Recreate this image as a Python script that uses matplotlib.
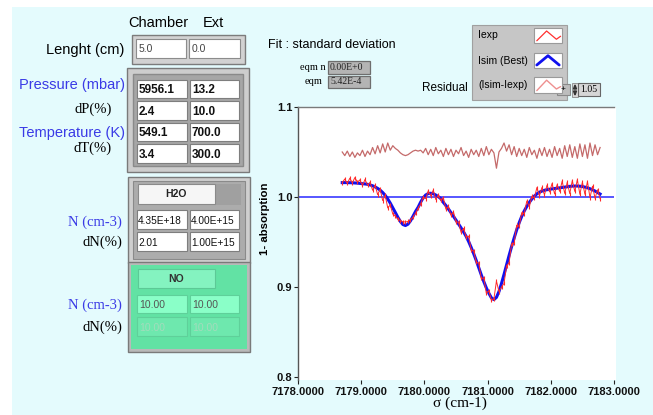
import numpy as np
import matplotlib
matplotlib.use("Agg")
import matplotlib.pyplot as plt
from matplotlib.patches import Rectangle

# ---------------- data ----------------
sigma_start = 7178.70          # cm-1, first sample
sigma_step = 0.04              # cm-1, sample spacing
residual_offset = 1.05         # offset applied to (Isim - Iexp)

isim = [
    1.0160, 1.0160, 1.0160, 1.0159, 1.0158, 1.0156, 1.0154, 1.0151, 1.0148, 1.0145,
    1.0141, 1.0134, 1.0125, 1.0112, 1.0096, 1.0076, 1.0050, 1.0018, 0.9978, 0.9932,
    0.9880, 0.9828, 0.9775, 0.9728, 0.9694, 0.9683, 0.9698, 0.9735, 0.9786, 0.9840,
    0.9885, 0.9942, 0.9990, 1.0022, 1.0038, 1.0042, 1.0036, 1.0022, 1.0004, 0.9982,
    0.9940, 0.9905, 0.9867, 0.9827, 0.9785, 0.9743, 0.9700, 0.9657, 0.9612, 0.9563,
    0.9505, 0.9440, 0.9370, 0.9295, 0.9215, 0.9135, 0.9060, 0.8990, 0.8930, 0.8880,
    0.8860, 0.8885, 0.8950, 0.9040, 0.9140, 0.9245, 0.9350, 0.9450, 0.9545, 0.9635,
    0.9715, 0.9785, 0.9845, 0.9895, 0.9940, 0.9978, 1.0010, 1.0035, 1.0053, 1.0066,
    1.0075, 1.0081, 1.0086, 1.0090, 1.0094, 1.0098, 1.0102, 1.0106, 1.0110, 1.0114,
    1.0118, 1.0121, 1.0122, 1.0122, 1.0120, 1.0116, 1.0110, 1.0102, 1.0092, 1.0080,
    1.0066, 1.0050, 1.0033,
]

residual = [
    1.050, 1.046, 1.051, 1.045, 1.050, 1.044, 1.049, 1.046, 1.052, 1.045,
    1.051, 1.047, 1.055, 1.048, 1.057, 1.049, 1.059, 1.050, 1.060, 1.052,
    1.057, 1.054, 1.052, 1.049, 1.047, 1.046, 1.047, 1.049, 1.051, 1.052,
    1.051, 1.052, 1.049, 1.054, 1.047, 1.053, 1.046, 1.055, 1.048, 1.052,
    1.045, 1.054, 1.047, 1.053, 1.045, 1.052, 1.048, 1.055, 1.046, 1.051,
    1.044, 1.053, 1.047, 1.052, 1.045, 1.054, 1.046, 1.056, 1.047, 1.053,
    1.049, 1.032, 1.050, 1.054, 1.060, 1.051, 1.058, 1.047, 1.056, 1.045,
    1.054, 1.046, 1.053, 1.044, 1.055, 1.047, 1.052, 1.043, 1.054, 1.046,
    1.055, 1.045, 1.053, 1.044, 1.056, 1.046, 1.054, 1.043, 1.057, 1.045,
    1.058, 1.044, 1.056, 1.043, 1.059, 1.045, 1.058, 1.043, 1.060, 1.046,
    1.058, 1.047, 1.055,
]

x_ticks = [7178, 7179, 7180, 7181, 7182, 7183]
y_ticks = [0.8, 0.9, 1.0, 1.1]
reference_level = 1.0

length_vals = ["5.0", "0.0"]
pt_vals = [["5956.1", "13.2"], ["2.4", "10.0"], ["549.1", "700.0"], ["3.4", "300.0"]]
h2o_vals = [["4.35E+18", "4.00E+15"], ["2.01", "1.00E+15"]]
no_vals = [["10.00", "10.00"], ["10.00", "10.00"]]
eqm_vals = ["0.00E+0", "5.42E-4"]
legend_labels = ["Iexp", "Isim (Best)", "(Isim-Iexp)"]

sigma = sigma_start + sigma_step * np.arange(len(isim))
isim_a = np.array(isim)
res_a = np.array(residual)
iexp = isim_a - (res_a - residual_offset)

# ---------------- styling ----------------
SANS = "Liberation Sans"
SERIF = "Liberation Serif"
CYAN = "#e4fbfd"
BLUE_TXT = "#3a3ae6"

W, H = 653, 415
fig = plt.figure(figsize=(W / 100, H / 100), dpi=100)
bg = fig.add_axes([0, 0, 1, 1])
bg.set_xlim(0, W)
bg.set_ylim(H, 0)
bg.axis("off")


def rect(x0, y0, x1, y1, fc, ec="none", lw=0.8, z=1):
    bg.add_patch(Rectangle((x0, y0), x1 - x0, y1 - y0, facecolor=fc,
                           edgecolor=ec, linewidth=lw, zorder=z))


def txt(x, y, s, size=8, ha="left", color="black", family=SANS, weight="normal", z=5):
    bg.text(x, y, s, fontsize=size, ha=ha, va="center", color=color,
            family=family, fontweight=weight, zorder=z)


rect(0, 0, W, H, "white", z=0)
rect(12, 7, W, H, CYAN, z=0)

# ---------- left panel ----------
txt(158, 23, "Chamber", 10.5, "center")
txt(213, 23, "Ext", 10.5, "center")

# Length
txt(124, 50, "Lenght (cm)", 10.5, "right")
rect(132, 35, 245, 64, "#d2d2d2", "#7c7c7c", 1.0)
cols = [(136, 186), (189, 240)]
for (a, b), v in zip(cols, length_vals):
    rect(a, 39, b, 58, "white", "#8c8c8c", 0.8, 2)
    txt(a + 3, 49, v, 7.5, color="#444444")

# Pressure / temperature cluster
rect(127, 68, 249, 172, "#cdcdcd", "#7a7a7a", 1.0)
rect(133, 74, 243, 166, "#a6a6a6", "#8a8a8a", 1.0)
pt_rows = [(80, 98), (101, 120), (123, 141), (144, 163)]
pt_cols = [(137, 187), (190, 239)]
for (r0, r1), row in zip(pt_rows, pt_vals):
    for (c0, c1), v in zip(pt_cols, row):
        rect(c0, r0, c1, r1, "white", "#7e7e7e", 0.8, 2)
        txt(c0 + 2, (r0 + r1) / 2 + 1, v, 8.5, weight="bold", color="#111111")
txt(125, 85, "Pressure (mbar)", 10.5, "right", BLUE_TXT)
txt(93, 109, "dP(%)", 10.5, "center", family=SERIF)
txt(125, 133, "Temperature (K)", 10.5, "right", BLUE_TXT)
txt(93, 148, "dT(%)", 10.5, "center", family=SERIF)

# H2O cluster
rect(128, 177, 250, 263, "#cfcfcf", "#7a7a7a", 1.0)
rect(133, 181, 245, 259, "#acacac", "#8a8a8a", 0.8)
rect(215, 184, 241, 205, "#a0a0a0", "none")
rect(138, 184, 215, 204, "#f6f6f6", "#8a8a8a", 0.8, 2)
txt(176, 194, "H2O", 7.5, "center", weight="bold", color="#222222")
h_rows = [(210, 229), (232, 251)]
for (r0, r1), row in zip(h_rows, h2o_vals):
    for (c0, c1), v in zip(pt_cols, row):
        rect(c0, r0, c1, r1, "white", "#7e7e7e", 0.8, 2)
        txt(c0 + 1, (r0 + r1) / 2 + 1, v, 7.3, color="#111111")
txt(122, 222, "N (cm-3)", 10.5, "right", BLUE_TXT, SERIF)
txt(122, 242, "dN(%)", 10.5, "right", family=SERIF)

# NO cluster
rect(128, 262, 250, 352, "#b9b9b9", "#7a7a7a", 1.0)
rect(131, 265, 247, 349, "#62e2a4", "none")
rect(138, 269, 215, 288, "#84f3c0", "#5cc996", 0.8, 2)
txt(176, 279, "NO", 7.5, "center", weight="bold", color="#333333")
n_rows = [(295, 313), (317, 336)]
n_fc = ["#8affc8", "#6ee8ae"]
n_tc = ["#555555", "#a2dcbc"]
for (r0, r1), row, fc, tc in zip(n_rows, no_vals, n_fc, n_tc):
    for (c0, c1), v in zip(pt_cols, row):
        rect(c0, r0, c1, r1, fc, "#5fd09a", 0.8, 2)
        txt(c0 + 2, (r0 + r1) / 2 + 1, v, 7.5, color=tc)
txt(122, 305, "N (cm-3)", 10.5, "right", BLUE_TXT, SERIF)
txt(122, 327, "dN(%)", 10.5, "right", family=SERIF)

# ---------- right top ----------
txt(268, 45, "Fit : standard deviation", 9)
txt(300, 67, "eqm n", 7.5, family=SERIF)
txt(305, 82, "eqm", 7.5, family=SERIF)
for (y0, y1), v in zip([(61, 74), (76, 88)], eqm_vals):
    rect(328, y0, 370, y1, "#b4b4b4", "#6e6e6e", 0.9, 3)
    txt(330, (y0 + y1) / 2, v, 7, family=SERIF, color="#222222", z=6)
txt(468, 88, "Residual", 8.5, "right")

# legend box
rect(472, 25, 567, 100, "#c6c6c6", "#a0a0a0", 0.8, 3)
leg_y = [(28, 43), (53, 68), (77, 93)]
for (y0, y1), lab in zip(leg_y, legend_labels):
    txt(478, (y0 + y1) / 2, lab, 7.5, z=6)
    rect(534, y0, 562, y1, "white", "#9a9a9a", 0.8, 4)
shapes = [[(0.1, 0.85), (0.45, 0.2), (0.8, 0.75), (0.95, 0.55)],
          [(0.1, 0.8), (0.5, 0.18), (0.9, 0.8)],
          [(0.1, 0.85), (0.45, 0.2), (0.8, 0.75), (0.95, 0.6)]]
styles = [dict(color="#ff3030", lw=0.9), dict(color="#1010ee", lw=2.0),
          dict(color="#ee9090", lw=1.0)]
for (y0, y1), shp, st in zip(leg_y, shapes, styles):
    xs = [534 + f * 28 for f, _ in shp]
    ys = [y0 + g * (y1 - y0) for _, g in shp]
    bg.plot(xs, ys, zorder=5, solid_capstyle="round", **st)

# +/spinner/value box
rect(557, 84, 570, 95, "#bdbdbd", "#8a8a8a", 0.8, 3)
txt(563.5, 89.5, "+", 6, "center", z=6)
rect(572, 83, 578, 97, "#d8d8d8", "#8a8a8a", 0.6, 3)
bg.fill([573.5, 575, 576.5], [89, 85, 89], color="#333333", zorder=5)
bg.fill([573.5, 575, 576.5], [91, 95, 91], color="#333333", zorder=5)
rect(578, 83, 600, 96, "#d6d6d6", "#666666", 0.8, 3)
txt(580, 89.5, "1.05", 7, family=SERIF, z=6)

# ---------- plot ----------
rect(298, 107, 616, 380, "white", z=0.5)
ax = fig.add_axes([298 / W, 1 - 380 / H, (614 - 298) / W, (380 - 107) / H])
ax.set_facecolor("white")
ax.set_xlim(x_ticks[0], x_ticks[-1])
ax.set_ylim(y_ticks[0] - 3 / 900, y_ticks[-1])

ax.axhline(reference_level, color="#3a3aff", lw=1.2, zorder=1)
ax.plot(sigma, res_a, color="#c46a6a", lw=0.9, zorder=2)
ax.plot(sigma, isim_a, color="#1010f0", lw=2.2, zorder=3)
ax.plot(sigma, iexp, color="#ff2a2a", lw=0.7, marker="|", ms=2.6, mew=0.8, zorder=4)

for s in ["right", "bottom"]:
    ax.spines[s].set_visible(False)
ax.spines["left"].set_color("#555555")
ax.spines["top"].set_color("#7a7a7a")
ax.spines["left"].set_linewidth(1.0)
ax.spines["top"].set_linewidth(1.0)

ax.set_xticks(x_ticks)
ax.set_xticklabels([f"{v:.4f}" for v in x_ticks])
ax.set_yticks(y_ticks)
ax.set_yticklabels([f"{v:.1f}" for v in y_ticks])
ax.tick_params(axis="x", direction="out", length=3, pad=2, colors="#222222")
ax.tick_params(axis="y", direction="out", length=3, pad=1, colors="#222222")
for lab in ax.get_xticklabels() + ax.get_yticklabels():
    lab.set_fontfamily(SANS)
    lab.set_fontweight("bold")
    lab.set_fontsize(8)
    lab.set_color("#111111")

fig.text(265 / W, 1 - 219 / H, "1- absorption", rotation=90, ha="center",
         va="center", fontsize=8.2, fontweight="bold", family=SANS)
fig.text(460 / W, 1 - 403 / H, "σ (cm-1)", ha="center", va="center",
         fontsize=11, family=SERIF)

fig.savefig("out.png", dpi=100)
